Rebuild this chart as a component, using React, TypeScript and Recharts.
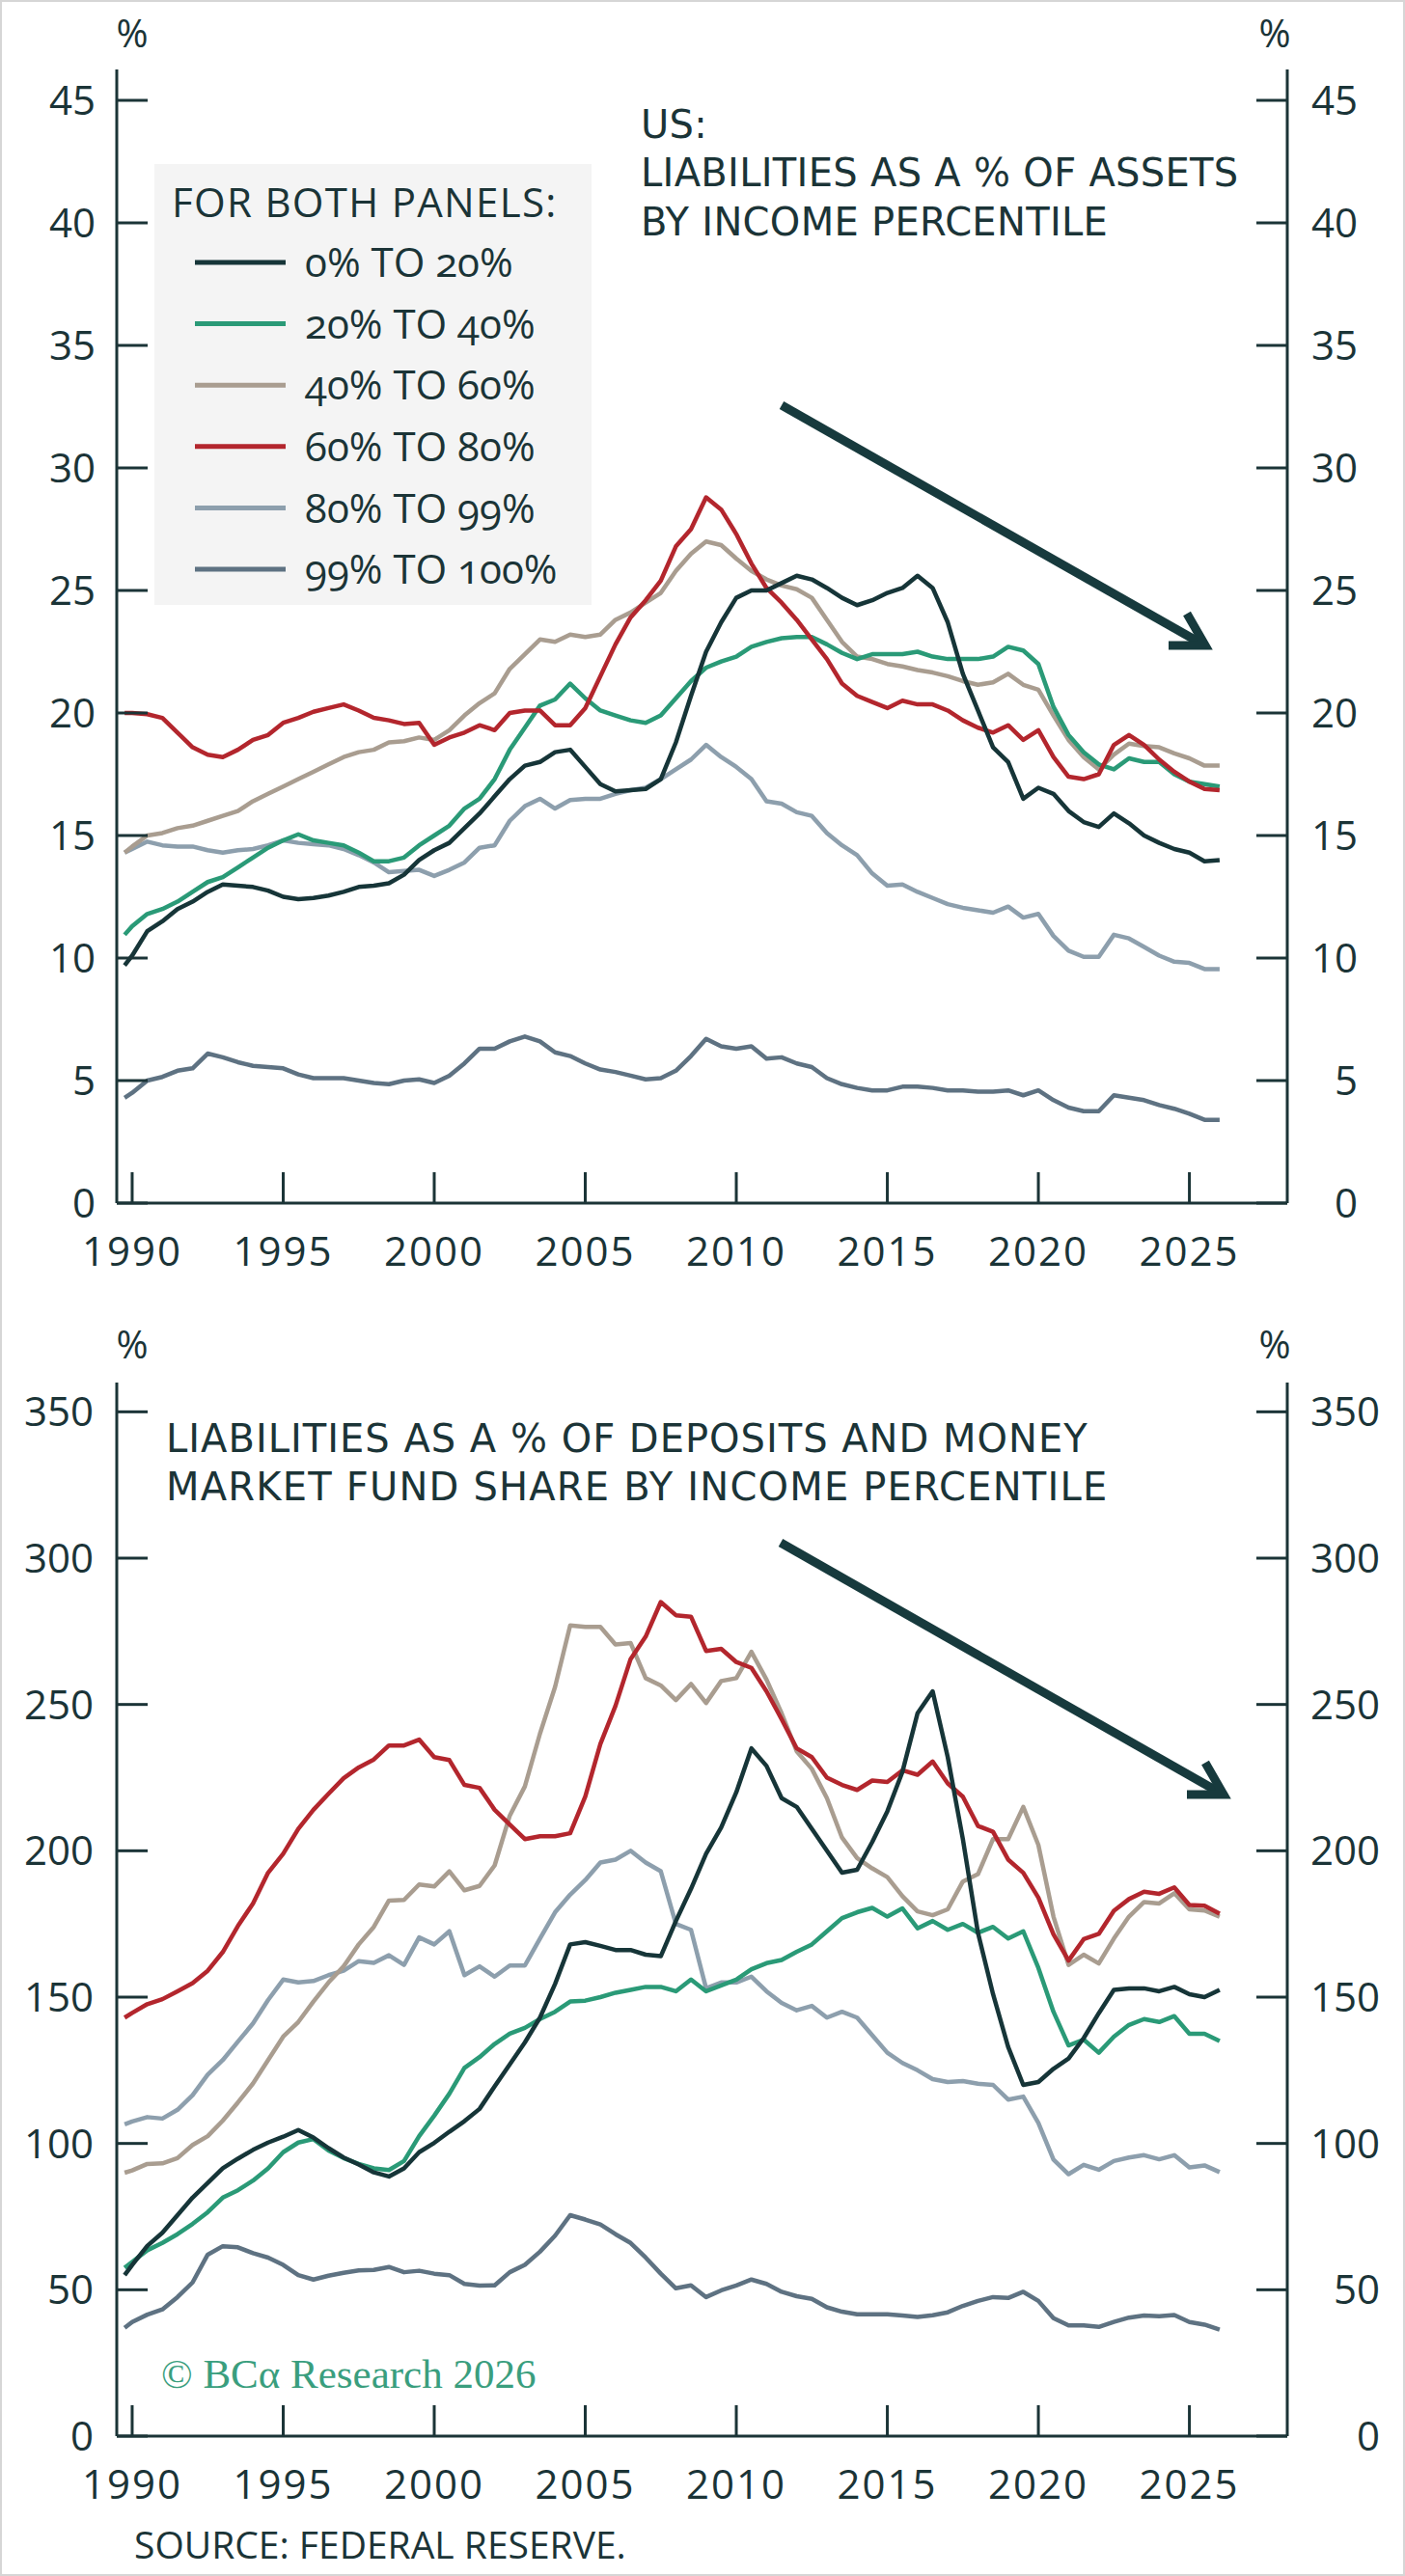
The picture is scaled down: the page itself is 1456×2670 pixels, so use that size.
import React from 'react';
import { LineChart, Line, XAxis, YAxis, Legend } from 'recharts';

// half-year observations (first point is 1989 Q4)
const years = [
  1989.75, 1990, 1990.5, 1991, 1991.5, 1992, 1992.5, 1993, 1993.5, 1994, 1994.5,
  1995, 1995.5, 1996, 1996.5, 1997, 1997.5, 1998, 1998.5, 1999, 1999.5,
  2000, 2000.5, 2001, 2001.5, 2002, 2002.5, 2003, 2003.5, 2004, 2004.5,
  2005, 2005.5, 2006, 2006.5, 2007, 2007.5, 2008, 2008.5, 2009, 2009.5,
  2010, 2010.5, 2011, 2011.5, 2012, 2012.5, 2013, 2013.5, 2014, 2014.5,
  2015, 2015.5, 2016, 2016.5, 2017, 2017.5, 2018, 2018.5, 2019, 2019.5,
  2020, 2020.5, 2021, 2021.5, 2022, 2022.5, 2023, 2023.5, 2024, 2024.5,
  2025, 2025.5, 2026,
];

// panel 1: liabilities as % of assets
const assets0to20 = [
  9.7, 10.1, 11.1, 11.5, 12.0, 12.3, 12.7, 13.0, 12.95, 12.9, 12.75,
  12.5, 12.4, 12.45, 12.55, 12.7, 12.9, 12.95, 13.05, 13.4, 14.0,
  14.4, 14.7, 15.3, 15.9, 16.6, 17.3, 17.85, 18.0, 18.4, 18.5,
  17.8, 17.1, 16.8, 16.85, 16.9, 17.3, 18.8, 20.7, 22.5, 23.7,
  24.7, 25.0, 25.0, 25.3, 25.6, 25.45, 25.1, 24.7, 24.4, 24.6,
  24.9, 25.1, 25.6, 25.1, 23.7, 21.6, 20.1, 18.6, 18.0, 16.5,
  16.95, 16.7, 16.0, 15.55, 15.35, 15.9, 15.5, 15.0, 14.7, 14.45,
  14.3, 13.95, 14.0,
];
const assets20to40 = [
  10.95, 11.3, 11.8, 12.0, 12.3, 12.7, 13.1, 13.3, 13.7, 14.1, 14.5,
  14.8, 15.05, 14.8, 14.7, 14.6, 14.3, 13.95, 13.95, 14.1, 14.6,
  15.0, 15.4, 16.1, 16.5, 17.3, 18.5, 19.4, 20.3, 20.55, 21.2,
  20.6, 20.1, 19.9, 19.7, 19.6, 19.9, 20.6, 21.3, 21.85, 22.1,
  22.3, 22.7, 22.9, 23.05, 23.1, 23.1, 22.8, 22.45, 22.2, 22.4,
  22.4, 22.4, 22.5, 22.3, 22.2, 22.2, 22.2, 22.3, 22.7, 22.55,
  22.0, 20.25, 19.1, 18.4, 17.9, 17.7, 18.15, 18.0, 18.0, 17.5,
  17.2, 17.1, 17.0,
];
const assets40to60 = [
  14.3, 14.55, 15.0, 15.1, 15.3, 15.4, 15.6, 15.8, 16.0, 16.4, 16.7,
  17.0, 17.3, 17.6, 17.9, 18.2, 18.4, 18.5, 18.8, 18.85, 19.0,
  18.9, 19.3, 19.9, 20.4, 20.8, 21.8, 22.4, 23.0, 22.9, 23.2,
  23.1, 23.2, 23.8, 24.1, 24.5, 24.9, 25.8, 26.5, 27.0, 26.85,
  26.3, 25.8, 25.45, 25.2, 25.05, 24.7, 23.8, 22.9, 22.3, 22.2,
  22.0, 21.9, 21.75, 21.65, 21.5, 21.3, 21.15, 21.25, 21.6, 21.15,
  20.95, 19.9, 18.9, 18.2, 17.7, 18.3, 18.75, 18.65, 18.6, 18.35,
  18.15, 17.85, 17.85,
];
const assets60to80 = [
  20.0, 20.0, 19.95, 19.8, 19.2, 18.6, 18.3, 18.2, 18.5, 18.9, 19.1,
  19.6, 19.8, 20.05, 20.2, 20.35, 20.1, 19.8, 19.7, 19.55, 19.6,
  18.7, 19.0, 19.2, 19.5, 19.3, 20.0, 20.1, 20.1, 19.5, 19.5,
  20.2, 21.5, 22.8, 23.9, 24.6, 25.4, 26.8, 27.5, 28.8, 28.3,
  27.3, 26.1, 25.1, 24.5, 23.8, 23.0, 22.2, 21.2, 20.7, 20.45,
  20.2, 20.5, 20.35, 20.35, 20.1, 19.7, 19.4, 19.2, 19.5, 18.9,
  19.3, 18.2, 17.4, 17.3, 17.5, 18.7, 19.1, 18.7, 18.1, 17.6,
  17.2, 16.9, 16.85,
];
const assets80to99 = [
  14.3, 14.45, 14.75, 14.6, 14.55, 14.55, 14.4, 14.3, 14.4, 14.45, 14.6,
  14.8, 14.7, 14.65, 14.6, 14.45, 14.2, 13.9, 13.5, 13.55, 13.6,
  13.35, 13.6, 13.9, 14.5, 14.6, 15.6, 16.2, 16.5, 16.1, 16.45,
  16.5, 16.5, 16.7, 16.85, 16.95, 17.3, 17.7, 18.1, 18.7, 18.2,
  17.8, 17.3, 16.4, 16.3, 15.95, 15.8, 15.1, 14.6, 14.2, 13.45,
  12.95, 13.0, 12.7, 12.45, 12.2, 12.05, 11.95, 11.85, 12.1, 11.65,
  11.8, 10.9, 10.3, 10.05, 10.05, 10.95, 10.8, 10.45, 10.1, 9.85,
  9.8, 9.55, 9.55,
];
const assets99to100 = [
  4.3, 4.5, 5.0, 5.15, 5.4, 5.5, 6.1, 5.95, 5.75, 5.6, 5.55,
  5.5, 5.25, 5.1, 5.1, 5.1, 5.0, 4.9, 4.85, 5.0, 5.05,
  4.9, 5.2, 5.7, 6.3, 6.3, 6.6, 6.8, 6.6, 6.15, 6.0,
  5.7, 5.45, 5.35, 5.2, 5.05, 5.1, 5.4, 6.0, 6.7, 6.4,
  6.3, 6.4, 5.9, 5.95, 5.7, 5.55, 5.1, 4.85, 4.7, 4.6,
  4.6, 4.75, 4.75, 4.7, 4.6, 4.6, 4.55, 4.55, 4.6, 4.4,
  4.6, 4.2, 3.9, 3.75, 3.75, 4.4, 4.3, 4.2, 4.0, 3.85,
  3.65, 3.4, 3.4,
];

// panel 2: liabilities as % of deposits and money market fund shares
const deposits0to20 = [
  55, 58.5, 65, 69.5, 75.5, 81.5, 86.5, 91.5, 94.8, 97.8, 100.3,
  102.3, 104.6, 102, 98.4, 95.2, 92.8, 90.1, 88.7, 91.5, 97,
  100.2, 104, 107.6, 111.8, 119.5, 127, 134.5, 143, 154.5, 168,
  168.8, 167.5, 166.1, 166.1, 164.5, 164, 176, 187, 199, 208,
  220, 235, 229, 218, 215, 207.5, 200, 192.5, 193.5, 203,
  213.5, 227, 247, 254.5, 232, 204, 172, 151, 133, 120,
  121, 125.5, 129, 136, 144.5, 152.5, 153, 153, 152, 153.5,
  151, 150, 152.5,
];
const deposits20to40 = [
  57.5, 59.5, 63.5, 66, 69, 72.5, 76.5, 81.5, 84, 87.3, 91.5,
  97, 100.3, 101.5, 97.6, 95, 93, 91.5, 90.9, 94, 102.5,
  109.5, 117, 125.8, 129.5, 134, 137.5, 139.5, 142.5, 145, 148.5,
  148.8, 150, 151.5, 152.5, 153.5, 153.5, 152, 156, 152, 154,
  156, 159.5, 161.6, 162.7, 165.5, 168, 172.5, 177, 179, 180.5,
  177.5, 180.3, 173.5, 176, 173, 175, 172, 174, 170, 172.5,
  160, 145, 133.5, 135.5, 131, 136.5, 140.5, 142.5, 141.5, 143.5,
  137.5, 137.5, 135,
];
const deposits40to60 = [
  90, 90.8, 93, 93.2, 95, 99.5, 102.5, 107.8, 114, 120.5, 128.5,
  136.5, 141.5, 148.5, 155, 160.5, 168, 174, 183, 183.2, 188.5,
  187.8, 193, 186.5, 188, 195, 212, 222, 240, 256, 277,
  276.5, 276.5, 270.5, 271, 259, 256.5, 251.5, 257, 250.5, 258,
  259, 268, 258.5, 247, 234, 228, 218, 204.5, 197.5, 194,
  191, 184.5, 179.3, 178, 180, 189.5, 192, 204, 204, 215,
  202, 177.5, 161, 164.5, 161.5, 170, 177.5, 182.5, 182, 185.5,
  180, 179.6, 177.5,
];
const deposits60to80 = [
  143, 144.6, 147.6, 149.3, 152, 154.8, 159, 165.4, 174.3, 182, 192.5,
  199, 207.5, 214, 219.5, 224.8, 228.5, 231.2, 236, 236, 238,
  232, 231, 222.5, 221.5, 214, 209, 204, 205, 205, 206,
  218.5, 236.5, 249.5, 265.5, 273.2, 285, 280.5, 280, 268.3, 269,
  264.5, 262.5, 254.5, 245, 235, 232, 225, 222.5, 220.8, 224,
  223.5, 227.5, 226, 230.5, 223, 218.5, 208.5, 206.5, 197, 192.5,
  184, 171.5, 162.5, 169.8, 171.6, 179.5, 183.5, 186, 185.3, 187.5,
  181.5, 181.2, 178.5,
];
const deposits80to99 = [
  106.5, 107.5, 109, 108.5, 111.5, 116.5, 123.5, 128.5, 134.8, 141, 149,
  156, 155, 155.5, 157.5, 159, 162.3, 161.7, 164.3, 161, 170.4,
  168, 172.5, 157.5, 160.5, 157, 160.8, 160.8, 170, 179, 185,
  190, 196, 197, 200, 196, 193, 175, 173, 153, 155,
  155, 157, 152, 148, 145.5, 147, 143, 145, 143, 137,
  131, 127.5, 125, 122, 121, 121.3, 120.4, 120, 115, 116,
  107, 94.5, 89.5, 92.7, 91, 94, 95.2, 96, 94.6, 96,
  91.8, 92.5, 90.2,
];
const deposits99to100 = [
  37, 39, 41.5, 43.3, 47.5, 52.5, 62, 64.9, 64.5, 62.5, 61,
  58.5, 55, 53.5, 54.8, 55.8, 56.6, 56.8, 57.8, 56, 56.5,
  55.5, 55, 52, 51.4, 51.5, 56, 58.5, 63, 68.5, 75.5,
  74, 72.3, 69, 66, 61, 55.5, 50.5, 51.5, 47.5, 49.8,
  51.5, 53.5, 52, 49.3, 47.8, 46.9, 44, 42.5, 41.6, 41.6,
  41.6, 41.2, 40.7, 41.3, 42.3, 44.5, 46.2, 47.5, 47.2, 49.3,
  46.2, 40.3, 37.8, 37.8, 37.3, 39, 40.5, 41.2, 41, 41.4,
  39, 38.1, 36.4,
];

const seriesNames = ['0% TO 20%', '20% TO 40%', '40% TO 60%', '60% TO 80%', '80% TO 99%', '99% TO 100%'];
const seriesColors = ['#163538', '#2a9a77', '#a99d90', '#b3262d', '#8d9fad', '#5e7282'];
const seriesKeys = ['p0', 'p20', 'p40', 'p60', 'p80', 'p99'];
const drawOrder = [5, 4, 2, 1, 3, 0];

const xTicks = [1990, 1995, 2000, 2005, 2010, 2015, 2020, 2025];
const assetTicks = [0, 5, 10, 15, 20, 25, 30, 35, 40, 45];
const depositTicks = [0, 50, 100, 150, 200, 250, 300, 350];

const X_DOMAIN = [1989.49, 2028.24];
const INK = '#1b3437';
const FONT = "'Open Sans', sans-serif";
const TITLE_FONT = "'DejaVu Sans', sans-serif";

const toRows = (series: number[][]) =>
  years.map((year, i) => {
    const row: Record<string, number> = { year };
    series.forEach((s, k) => {
      row[seriesKeys[k]] = s[i];
    });
    return row;
  });

const assetRows = toRows([assets0to20, assets20to40, assets40to60, assets60to80, assets80to99, assets99to100]);
const depositRows = toRows([deposits0to20, deposits20to40, deposits40to60, deposits60to80, deposits80to99, deposits99to100]);

const BottomTick = (props: any) => {
  const { x, y, payload } = props;
  return (
    <g>
      <line x1={x} x2={x} y1={y} y2={y - 32} stroke={INK} strokeWidth={3} />
      <text x={x} y={y + 50} dy="0.36em" textAnchor="middle" fill={INK} fontSize={42} letterSpacing={2} fontFamily={FONT}>
        {payload.value}
      </text>
    </g>
  );
};

const LeftTick = (props: any) => {
  const { x, y, payload, gap } = props;
  return (
    <g>
      <line x1={x} x2={x + 32} y1={y} y2={y} stroke={INK} strokeWidth={3} />
      <text x={x - gap} y={y} dy="0.36em" textAnchor="end" fill={INK} fontSize={42} fontFamily={FONT}>
        {payload.value}
      </text>
    </g>
  );
};

const RightTick = (props: any) => {
  const { x, y, payload, gap } = props;
  return (
    <g>
      <line x1={x} x2={x - 32} y1={y} y2={y} stroke={INK} strokeWidth={3} />
      <text x={x + gap} y={y} dy="0.36em" textAnchor="end" fill={INK} fontSize={42} fontFamily={FONT}>
        {payload.value}
      </text>
    </g>
  );
};

const LegendBox = () => (
  <svg width={453} height={457} style={{ display: 'block', background: '#f4f4f4' }}>
    <text x={18} y={40} dy="0.36em" fill={INK} fontSize={42} letterSpacing={1.3} fontFamily={FONT}>
      FOR BOTH PANELS:
    </text>
    {seriesNames.map((name, i) => (
      <g key={name}>
        <line x1={42} x2={136} y1={102 + i * 63.6} y2={102 + i * 63.6} stroke={seriesColors[i]} strokeWidth={5} />
        <text
          x={156}
          y={102 + i * 63.6}
          dy="0.36em"
          fill={INK}
          fontSize={42}
          fontFamily={FONT}
          style={{ fontVariantNumeric: 'oldstyle-nums' }}
        >
          {name}
        </text>
      </g>
    ))}
  </svg>
);

type PanelProps = {
  rows: Record<string, number>[];
  yMax: number;
  yTicks: number[];
  height: number;
  top: number;
  leftGap: number;
  rightGap: number;
  legend?: boolean;
};

const Panel = ({ rows, yMax, yTicks, height, top, leftGap, rightGap, legend }: PanelProps) => (
  <LineChart width={1456} height={height} data={rows} margin={{ top, right: 0, bottom: 0, left: 0 }}>
    <XAxis
      dataKey="year"
      type="number"
      domain={X_DOMAIN}
      ticks={xTicks}
      interval={0}
      height={80}
      tickSize={0}
      tickMargin={0}
      tickLine={false}
      axisLine={{ stroke: INK, strokeWidth: 3 }}
      tick={(p: any) => <BottomTick {...p} />}
    />
    <XAxis
      xAxisId="top"
      orientation="top"
      dataKey="year"
      type="number"
      domain={X_DOMAIN}
      height={0}
      tick={false}
      tickLine={false}
      axisLine={{ stroke: INK, strokeWidth: 3 }}
    />
    <YAxis
      yAxisId="left"
      type="number"
      domain={[0, yMax]}
      ticks={yTicks}
      interval={0}
      width={121}
      tickSize={0}
      tickMargin={0}
      tickLine={false}
      axisLine={{ stroke: INK, strokeWidth: 3 }}
      tick={(p: any) => <LeftTick {...p} gap={leftGap} />}
    />
    <YAxis
      yAxisId="right"
      orientation="right"
      type="number"
      domain={[0, yMax]}
      ticks={yTicks}
      interval={0}
      width={122}
      tickSize={0}
      tickMargin={0}
      tickLine={false}
      axisLine={{ stroke: INK, strokeWidth: 3 }}
      tick={(p: any) => <RightTick {...p} gap={rightGap} />}
    />
    {drawOrder.map((k) => (
      <Line
        key={seriesKeys[k]}
        yAxisId={k % 2 === 0 ? 'left' : 'right'}
        type="linear"
        dataKey={seriesKeys[k]}
        name={seriesNames[k]}
        stroke={seriesColors[k]}
        strokeWidth={4.5}
        strokeLinejoin="round"
        dot={false}
        activeDot={false}
        isAnimationActive={false}
      />
    ))}
    {legend && (
      <Legend
        layout="vertical"
        align="center"
        verticalAlign="middle"
        wrapperStyle={{ left: 160, top: 170, width: 453, height: 457, margin: 0 }}
        content={() => <LegendBox />}
      />
    )}
  </LineChart>
);

const Arrow = ({ x1, y1, x2, y2 }: { x1: number; y1: number; x2: number; y2: number }) => (
  <g stroke="#173a3d" strokeWidth={9} fill="none">
    <line x1={x1} y1={y1} x2={x2 - 4} y2={y2 - 2} />
    <polyline points={`${x2 - 38},${y2} ${x2},${y2} ${x2 - 19},${y2 - 33}`} strokeLinejoin="miter" />
  </g>
);

const txt = { fill: INK, fontFamily: FONT, fontSize: 42 } as const;
const title = { fill: INK, fontFamily: TITLE_FONT, fontSize: 40 } as const;

export default function App() {
  return (
    <div style={{ position: 'absolute', left: 0, top: 0, width: 1456, height: 2670, background: '#ffffff' }}>
      <div style={{ position: 'absolute', left: 0, top: 0 }}>
        <Panel rows={assetRows} yMax={46.26} yTicks={assetTicks} height={1327} top={72} leftGap={22} rightGap={73} legend />
      </div>
      <div style={{ position: 'absolute', left: 0, top: 1330 }}>
        <Panel rows={depositRows} yMax={360} yTicks={depositTicks} height={1275} top={103} leftGap={24} rightGap={96} />
      </div>
      <svg
        width={1456}
        height={2670}
        style={{ position: 'absolute', left: 0, top: 0, pointerEvents: 'none' }}
      >
        <rect x={1} y={1} width={1454} height={2668} fill="none" stroke="#d6d6d6" strokeWidth={2} />
        <text x={137} y={35} dy="0.36em" textAnchor="middle" {...txt} fontSize={40}>%</text>
        <text x={1321} y={35} dy="0.36em" textAnchor="middle" {...txt} fontSize={40}>%</text>
        <text x={137} y={1394} dy="0.36em" textAnchor="middle" {...txt} fontSize={40}>%</text>
        <text x={1321} y={1394} dy="0.36em" textAnchor="middle" {...txt} fontSize={40}>%</text>

        <text x={664} y={129} dy="0.36em" {...title} letterSpacing={0.3}>US:</text>
        <text x={664} y={179} dy="0.36em" {...title} letterSpacing={0.3}>LIABILITIES AS A % OF ASSETS</text>
        <text x={664} y={230} dy="0.36em" {...title} letterSpacing={0.3}>BY INCOME PERCENTILE</text>

        <text x={172} y={1491} dy="0.36em" {...title} letterSpacing={1}>LIABILITIES AS A % OF DEPOSITS AND MONEY</text>
        <text x={172} y={1541} dy="0.36em" {...title} letterSpacing={1.2}>MARKET FUND SHARE BY INCOME PERCENTILE</text>

        <Arrow x1={810} y1={420} x2={1249} y2={669} />
        <Arrow x1={809} y1={1599} x2={1268} y2={1860} />

        <text x={167} y={2461} dy="0.33em" fill="#3a9e7e" fontFamily="'Liberation Serif', 'DejaVu Serif', serif" fontSize={43}>
          © BCα Research 2026
        </text>
        <text x={139} y={2638} dy="0.36em" {...txt} fontSize={39}>SOURCE: FEDERAL RESERVE.</text>
      </svg>
    </div>
  );
}
